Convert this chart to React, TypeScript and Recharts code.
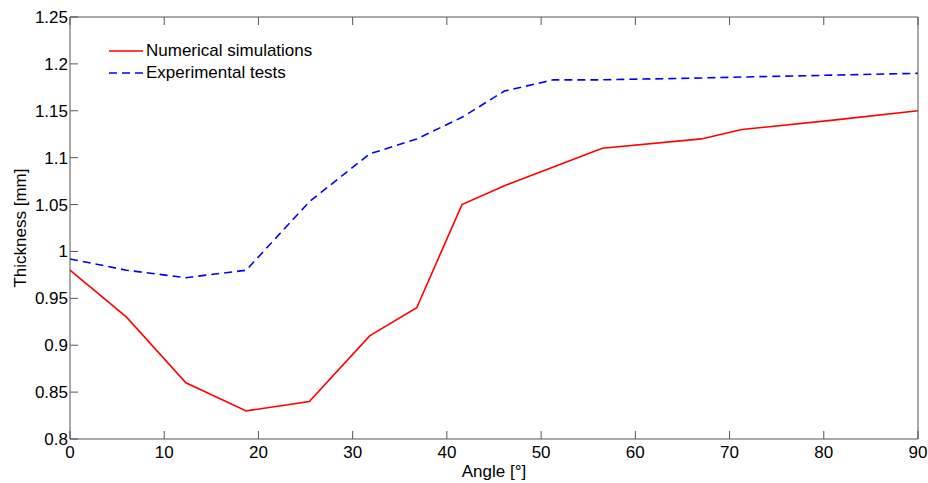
import { LineChart, Line, XAxis, YAxis } from 'recharts'

// Angle [°] sample positions shared by both series
const angles = [0, 6, 12.3, 18.7, 25.4, 31.8, 36.8, 41.6, 46.1, 51.3, 56.5, 67, 71.3, 81, 90]
const numerical = [0.98, 0.93, 0.86, 0.83, 0.84, 0.91, 0.94, 1.05, 1.07, 1.09, 1.11, 1.12, 1.13, 1.14, 1.15]
const experimental = [0.992, 0.98, 0.972, 0.98, 1.053, 1.104, 1.12, 1.143, 1.171, 1.183, 1.183, 1.185, 1.186, 1.188, 1.19]

const xTicks = [0, 10, 20, 30, 40, 50, 60, 70, 80, 90]
const yTicks = [0.8, 0.85, 0.9, 0.95, 1, 1.05, 1.1, 1.15, 1.2, 1.25]

const data = angles.map((a, i) => ({ angle: a, numerical: numerical[i], experimental: experimental[i] }))

const FONT = 'Arial, "Liberation Sans", Helvetica, sans-serif'
const AXIS = '#555'
const tickStyle = { fontSize: 17, fontFamily: FONT, fill: '#000' }
const fmt = (v: number) => String(Number(v.toFixed(2)))
const blank = () => ''

function LegendBox() {
  const rows = [
    { label: 'Numerical simulations', color: '#ff0000', dash: undefined },
    { label: 'Experimental tests', color: '#0000ff', dash: '8 5' },
  ]
  return (
    <div style={{ position: 'absolute', left: 108, top: 40, fontFamily: FONT, fontSize: 17, color: '#000' }}>
      {rows.map(r => (
        <div key={r.label} style={{ display: 'flex', alignItems: 'center', height: 22 }}>
          <svg width={36} height={10} style={{ marginRight: 2 }}>
            <line x1={1} y1={5} x2={35} y2={5} stroke={r.color} strokeWidth={1.6} strokeDasharray={r.dash} />
          </svg>
          <span>{r.label}</span>
        </div>
      ))}
    </div>
  )
}

export default function App() {
  return (
    <div style={{ position: 'absolute', left: 0, top: 0, width: 928, height: 483, background: '#fff' }}>
      <LineChart width={928} height={483} data={data} margin={{ top: 16, right: 9, bottom: 0, left: 0 }}>
        <XAxis
          xAxisId="bottom"
          dataKey="angle"
          type="number"
          domain={[0, 90]}
          ticks={xTicks}
          height={44}
          tick={tickStyle}
          tickSize={-8}
          tickMargin={15}
          stroke={AXIS}
          label={{
            content: ({ viewBox }: any) => (
              <text x={viewBox.x + viewBox.width / 2} y={viewBox.y + 38} textAnchor="middle" fontFamily={FONT} fontSize={17} fill="#000">
                Angle [°]
              </text>
            ),
          }}
        />
        <XAxis
          xAxisId="top"
          orientation="top"
          dataKey="angle"
          type="number"
          domain={[0, 90]}
          ticks={xTicks}
          height={1}
          tickFormatter={blank}
          tickSize={-8}
          stroke={AXIS}
        />
        <YAxis
          yAxisId="left"
          type="number"
          domain={[0.8, 1.25]}
          ticks={yTicks}
          width={70}
          tick={tickStyle}
          tickFormatter={fmt}
          tickSize={-8}
          tickMargin={10}
          stroke={AXIS}
          label={{
            content: ({ viewBox }: any) => {
              const x = viewBox.x + 20
              const y = viewBox.y + viewBox.height / 2
              return (
                <text x={x} y={y} transform={`rotate(-90 ${x} ${y})`} textAnchor="middle" dominantBaseline="central" fontFamily={FONT} fontSize={17} fill="#000">
                  Thickness [mm]
                </text>
              )
            },
          }}
        />
        <YAxis
          yAxisId="right"
          orientation="right"
          type="number"
          domain={[0.8, 1.25]}
          ticks={yTicks}
          width={1}
          tickFormatter={blank}
          tickSize={-8}
          stroke={AXIS}
        />
        <Line
          xAxisId="bottom"
          yAxisId="left"
          type="linear"
          dataKey="numerical"
          stroke="#ff0000"
          strokeWidth={1.6}
          dot={false}
          isAnimationActive={false}
        />
        <Line
          xAxisId="bottom"
          yAxisId="left"
          type="linear"
          dataKey="experimental"
          stroke="#0000ff"
          strokeWidth={1.6}
          strokeDasharray="8 5"
          dot={false}
          isAnimationActive={false}
        />
      </LineChart>
      <LegendBox />
    </div>
  )
}
